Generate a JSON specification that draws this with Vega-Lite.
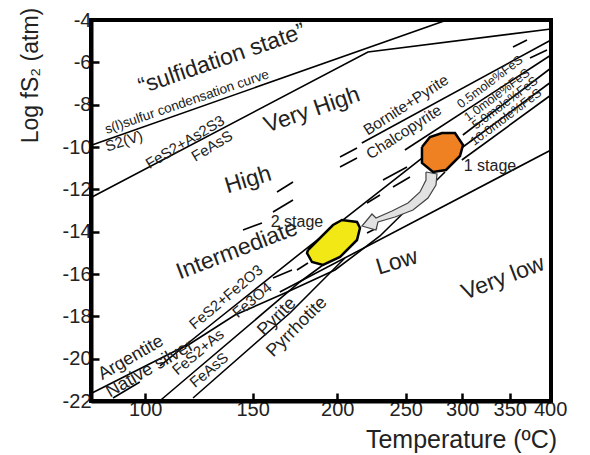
{
  "$schema": "https://vega.github.io/schema/vega-lite/v6.json",
  "autosize": "none",
  "width": 460,
  "height": 381,
  "padding": {"left": 91, "top": 20, "right": 39, "bottom": 54},
  "background": "white",
  "config": {
    "font": "Liberation Sans",
    "view": {"stroke": "black", "strokeWidth": 4},
    "axis": {"grid": false, "domainColor": "black", "domainWidth": 4, "tickColor": "black", "tickWidth": 2.5, "labelColor": "#222", "titleColor": "#222", "labelFont": "Liberation Sans", "titleFont": "Liberation Sans", "titleFontWeight": "normal"}
  },
  "datasets": {
    "lines": [
      {"line": "sulfur", "i": 0, "invT": 2.837, "fS2": -9.906},
      {"line": "sulfur", "i": 1, "invT": 1.790, "fS2": -4.0},
      {"line": "asp", "i": 0, "invT": 2.837, "fS2": -12.362},
      {"line": "asp", "i": 1, "invT": 2.023, "fS2": -5.512},
      {"line": "asp", "i": 2, "invT": 1.483, "fS2": -4.425},
      {"line": "bornite", "i": 0, "invT": 2.041, "fS2": -9.811},
      {"line": "bornite", "i": 1, "invT": 1.483, "fS2": -4.945},
      {"line": "i1", "i": 0, "invT": 1.914, "fS2": -10.142},
      {"line": "i1", "i": 1, "invT": 1.483, "fS2": -5.653},
      {"line": "i2", "i": 0, "invT": 1.743, "fS2": -9.433},
      {"line": "i2", "i": 1, "invT": 1.483, "fS2": -6.268},
      {"line": "i3", "i": 0, "invT": 1.743, "fS2": -10.0},
      {"line": "i3", "i": 1, "invT": 1.483, "fS2": -6.929},
      {"line": "i4", "i": 0, "invT": 1.746, "fS2": -10.614},
      {"line": "i4", "i": 1, "invT": 1.483, "fS2": -7.543},
      {"line": "bottom", "i": 0, "invT": 2.283, "fS2": -16.85},
      {"line": "bottom", "i": 1, "invT": 1.483, "fS2": -10.142},
      {"line": "argentite", "i": 0, "invT": 2.837, "fS2": -21.622},
      {"line": "argentite", "i": 1, "invT": 2.5627, "fS2": -19.402},
      {"line": "native", "i": 0, "invT": 2.775, "fS2": -21.858},
      {"line": "native", "i": 1, "invT": 2.696, "fS2": -21.102},
      {"line": "hem", "i": 0, "invT": 2.6365, "fS2": -20.346},
      {"line": "hem", "i": 1, "invT": 2.4801, "fS2": -18.315},
      {"line": "hem", "i": 2, "invT": 2.2028, "fS2": -14.772},
      {"line": "hem", "i": 3, "invT": 1.8636, "fS2": -10.52},
      {"line": "mag", "i": 0, "invT": 2.5627, "fS2": -19.449},
      {"line": "mag", "i": 1, "invT": 2.4152, "fS2": -17.937},
      {"line": "mag", "i": 2, "invT": 2.2677, "fS2": -16.898},
      {"line": "mag", "i": 3, "invT": 2.1202, "fS2": -15.811},
      {"line": "mag", "i": 4, "invT": 1.9875, "fS2": -14.205},
      {"line": "mag", "i": 5, "invT": 1.7957, "fS2": -11.181},
      {"line": "asp2", "i": 0, "invT": 2.634, "fS2": -21.953},
      {"line": "asp2", "i": 1, "invT": 2.224, "fS2": -16.378},
      {"line": "asp2", "i": 2, "invT": 2.055, "fS2": -14.394},
      {"line": "py", "i": 0, "invT": 2.539, "fS2": -21.858},
      {"line": "py", "i": 1, "invT": 2.253, "fS2": -17.842},
      {"line": "py", "i": 2, "invT": 2.091, "fS2": -15.244},
      {"line": "d1", "i": 0, "invT": 2.2913, "fS2": -12.126},
      {"line": "d1", "i": 1, "invT": 2.2441, "fS2": -11.654},
      {"line": "d2", "i": 0, "invT": 2.3031, "fS2": -13.071},
      {"line": "d2", "i": 1, "invT": 2.2441, "fS2": -12.504},
      {"line": "d3", "i": 0, "invT": 2.3916, "fS2": -13.921},
      {"line": "d3", "i": 1, "invT": 2.3356, "fS2": -13.591},
      {"line": "d4", "i": 0, "invT": 2.1055, "fS2": -10.472},
      {"line": "d4", "i": 1, "invT": 2.0553, "fS2": -10.047},
      {"line": "d5", "i": 0, "invT": 2.1055, "fS2": -10.945},
      {"line": "d5", "i": 1, "invT": 2.0553, "fS2": -10.52},
      {"line": "d6", "i": 0, "invT": 1.9786, "fS2": -11.559},
      {"line": "d6", "i": 1, "invT": 1.9078, "fS2": -10.945},
      {"line": "d7", "i": 0, "invT": 1.9491, "fS2": -11.89},
      {"line": "d7", "i": 1, "invT": 1.899, "fS2": -11.417},
      {"line": "d8", "i": 0, "invT": 2.0258, "fS2": -12.646},
      {"line": "d8", "i": 1, "invT": 1.9875, "fS2": -12.268},
      {"line": "d9", "i": 0, "invT": 2.3031, "fS2": -16.189},
      {"line": "d9", "i": 1, "invT": 2.2471, "fS2": -15.811},
      {"line": "d10", "i": 0, "invT": 2.2323, "fS2": -15.811},
      {"line": "d10", "i": 1, "invT": 2.1999, "fS2": -15.48},
      {"line": "d11", "i": 0, "invT": 2.0258, "fS2": -14.063},
      {"line": "d11", "i": 1, "invT": 1.9963, "fS2": -13.827},
      {"line": "d12", "i": 0, "invT": 1.5951, "fS2": -5.276},
      {"line": "d12", "i": 1, "invT": 1.5538, "fS2": -4.945},
      {"line": "d13", "i": 0, "invT": 1.545, "fS2": -5.795},
      {"line": "d13", "i": 1, "invT": 1.4948, "fS2": -5.417}
    ],
    "orange": [
      {"i": 0, "invT": 1.8636, "fS2": -10.0},
      {"i": 1, "invT": 1.84, "fS2": -9.528},
      {"i": 2, "invT": 1.8046, "fS2": -9.339},
      {"i": 3, "invT": 1.7662, "fS2": -9.339},
      {"i": 4, "invT": 1.7426, "fS2": -9.906},
      {"i": 5, "invT": 1.7515, "fS2": -10.425},
      {"i": 6, "invT": 1.7928, "fS2": -11.087},
      {"i": 7, "invT": 1.8311, "fS2": -11.181},
      {"i": 8, "invT": 1.8636, "fS2": -10.756},
      {"i": 9, "invT": 1.8636, "fS2": -10.0}
    ],
    "yellow": [
      {"i": 0, "invT": 2.1999, "fS2": -14.866},
      {"i": 1, "invT": 2.1261, "fS2": -13.685},
      {"i": 2, "invT": 2.0996, "fS2": -13.449},
      {"i": 3, "invT": 2.0553, "fS2": -13.543},
      {"i": 4, "invT": 2.0465, "fS2": -13.827},
      {"i": 5, "invT": 2.0553, "fS2": -14.394},
      {"i": 6, "invT": 2.1055, "fS2": -15.197},
      {"i": 7, "invT": 2.1556, "fS2": -15.575},
      {"i": 8, "invT": 2.1881, "fS2": -15.433},
      {"i": 9, "invT": 2.2028, "fS2": -15.008},
      {"i": 10, "invT": 2.1999, "fS2": -14.866}
    ],
    "arrow": [
      {"i": 0, "invT": 1.8518, "fS2": -11.181},
      {"i": 1, "invT": 1.8193, "fS2": -11.276},
      {"i": 2, "invT": 1.8223, "fS2": -11.795},
      {"i": 3, "invT": 1.8459, "fS2": -12.409},
      {"i": 4, "invT": 1.8901, "fS2": -12.976},
      {"i": 5, "invT": 1.9432, "fS2": -13.307},
      {"i": 6, "invT": 1.9934, "fS2": -13.543},
      {"i": 7, "invT": 1.9993, "fS2": -13.921},
      {"i": 8, "invT": 2.0406, "fS2": -13.732},
      {"i": 9, "invT": 2.0111, "fS2": -13.165},
      {"i": 10, "invT": 1.9993, "fS2": -13.354},
      {"i": 11, "invT": 1.9521, "fS2": -13.024},
      {"i": 12, "invT": 1.9049, "fS2": -12.646},
      {"i": 13, "invT": 1.8695, "fS2": -12.126},
      {"i": 14, "invT": 1.8518, "fS2": -11.559},
      {"i": 15, "invT": 1.8518, "fS2": -11.181}
    ],
    "labels": [
      {"g": "big19", "t": "“sulfidation state”", "invT": 2.4536, "fS2": -5.842},
      {"g": "big19", "t": "Very High", "invT": 2.1881, "fS2": -8.252},
      {"g": "big17", "t": "High", "invT": 2.3769, "fS2": -11.559},
      {"g": "big17", "t": "Low", "invT": 1.9373, "fS2": -15.433},
      {"g": "big21", "t": "Intermediate", "invT": 2.4093, "fS2": -14.866},
      {"g": "big21", "t": "Very low", "invT": 1.6246, "fS2": -16.189},
      {"g": "cond", "t": "s(l)sulfur condensation curve", "invT": 2.5568, "fS2": -7.874},
      {"g": "s2v", "t": "S2(V)", "invT": 2.7427, "fS2": -9.717},
      {"g": "a31", "t": "FeS2+As2S3", "invT": 2.5627, "fS2": -9.764},
      {"g": "a31", "t": "FeAsS", "invT": 2.4831, "fS2": -9.953},
      {"g": "a33", "t": "Bornite+Pyrite", "invT": 1.9108, "fS2": -8.016},
      {"g": "a33", "t": "Chalcopyrite", "invT": 1.9167, "fS2": -9.291},
      {"g": "fes", "t": "0.5mole%FeS", "invT": 1.663, "fS2": -6.929},
      {"g": "fes", "t": "1.0mole%FeS", "invT": 1.6423, "fS2": -7.543},
      {"g": "fes", "t": "5.0mole%FeS", "invT": 1.6187, "fS2": -7.921},
      {"g": "fes", "t": "10.0mole%FeS", "invT": 1.6158, "fS2": -8.583},
      {"g": "stage", "t": "2 stage", "invT": 2.2323, "fS2": -13.543},
      {"g": "stage", "t": "1 stage", "invT": 1.663, "fS2": -10.897},
      {"g": "a30", "t": "Argentite", "invT": 2.722, "fS2": -19.969},
      {"g": "a30", "t": "Native silver", "invT": 2.666, "fS2": -20.488},
      {"g": "a40", "t": "FeS2+Fe2O3", "invT": 2.4418, "fS2": -17.087},
      {"g": "a40", "t": "Fe3O4", "invT": 2.3651, "fS2": -17.228},
      {"g": "a40", "t": "FeS2+As", "invT": 2.5244, "fS2": -19.685},
      {"g": "a40", "t": "FeAsS", "invT": 2.4919, "fS2": -20.535},
      {"g": "a45", "t": "Pyrite", "invT": 2.2913, "fS2": -18.031},
      {"g": "a45", "t": "Pyrrhotite", "invT": 2.2323, "fS2": -18.504}
    ]
  },
  "encoding": {
    "x": {
      "field": "invT", "type": "quantitative",
      "scale": {"domain": [1.483, 2.84], "reverse": true, "nice": false, "zero": false},
      "axis": {
        "values": [2.67989, 2.36323, 2.11349, 1.9115, 1.74474, 1.60475, 1.48555],
        "labelExpr": "round(1000/datum.value-273.15)",
        "title": "Temperature (ºC)",
        "titleFontSize": 25,
        "titleX": 370, "titleY": 46, "titleAlign": "center", "titleBaseline": "alphabetic",
        "labelFontSize": 20, "labelPadding": 6, "tickSize": -8, "labelFlush": false, "labelOverlap": false
      }
    },
    "y": {
      "field": "fS2", "type": "quantitative",
      "scale": {"domain": [-22, -4], "nice": false, "zero": false},
      "axis": {
        "values": [-22, -20, -18, -16, -14, -12, -10, -8, -6, -4],
        "labelExpr": "'-' + abs(datum.value)",
        "title": "Log fS₂ (atm)",
        "titleFontSize": 23,
        "titleX": -61, "titleY": 55, "titleAngle": -90, "titleAlign": "center", "titleBaseline": "middle",
        "labelFontSize": 20, "labelPadding": 8, "tickSize": -8, "labelFlush": false, "labelOverlap": false
      }
    }
  },
  "layer": [
    {
      "data": {"name": "lines"},
      "mark": {"type": "line", "color": "black", "strokeWidth": 1.6},
      "encoding": {"detail": {"field": "line"}, "order": {"field": "i", "type": "quantitative"}}
    },
    {
      "data": {"name": "arrow"},
      "mark": {"type": "line", "fill": "#e2e2e2", "stroke": "#444", "strokeWidth": 1.2},
      "encoding": {"order": {"field": "i", "type": "quantitative"}}
    },
    {
      "data": {"name": "orange"},
      "mark": {"type": "line", "fill": "#f08122", "stroke": "black", "strokeWidth": 2.5},
      "encoding": {"order": {"field": "i", "type": "quantitative"}}
    },
    {
      "data": {"name": "yellow"},
      "mark": {"type": "line", "fill": "#f2e816", "stroke": "black", "strokeWidth": 2.5},
      "encoding": {"order": {"field": "i", "type": "quantitative"}}
    },
    {
      "data": {"name": "labels"},
      "transform": [{"filter": "datum.g == 'big19'"}],
      "mark": {"type": "text", "angle": -19, "fontSize": 23, "color": "#222"},
      "encoding": {"text": {"field": "t"}}
    },
    {
      "data": {"name": "labels"},
      "transform": [{"filter": "datum.g == 'big17'"}],
      "mark": {"type": "text", "angle": -17, "fontSize": 23, "color": "#222"},
      "encoding": {"text": {"field": "t"}}
    },
    {
      "data": {"name": "labels"},
      "transform": [{"filter": "datum.g == 'big21'"}],
      "mark": {"type": "text", "angle": -21, "fontSize": 23, "color": "#222"},
      "encoding": {"text": {"field": "t"}}
    },
    {
      "data": {"name": "labels"},
      "transform": [{"filter": "datum.g == 'cond'"}],
      "mark": {"type": "text", "angle": -19, "fontSize": 13.5, "color": "#222"},
      "encoding": {"text": {"field": "t"}}
    },
    {
      "data": {"name": "labels"},
      "transform": [{"filter": "datum.g == 's2v'"}],
      "mark": {"type": "text", "angle": -18, "fontSize": 15, "color": "#222"},
      "encoding": {"text": {"field": "t"}}
    },
    {
      "data": {"name": "labels"},
      "transform": [{"filter": "datum.g == 'a31'"}],
      "mark": {"type": "text", "angle": -31, "fontSize": 15, "color": "#222"},
      "encoding": {"text": {"field": "t"}}
    },
    {
      "data": {"name": "labels"},
      "transform": [{"filter": "datum.g == 'a33'"}],
      "mark": {"type": "text", "angle": -33, "fontSize": 15.5, "color": "#222"},
      "encoding": {"text": {"field": "t"}}
    },
    {
      "data": {"name": "labels"},
      "transform": [{"filter": "datum.g == 'fes'"}],
      "mark": {"type": "text", "angle": -37, "fontSize": 12.5, "color": "#222"},
      "encoding": {"text": {"field": "t"}}
    },
    {
      "data": {"name": "labels"},
      "transform": [{"filter": "datum.g == 'stage'"}],
      "mark": {"type": "text", "angle": 0, "fontSize": 16, "color": "#222"},
      "encoding": {"text": {"field": "t"}}
    },
    {
      "data": {"name": "labels"},
      "transform": [{"filter": "datum.g == 'a30'"}],
      "mark": {"type": "text", "angle": -30, "fontSize": 18, "color": "#222"},
      "encoding": {"text": {"field": "t"}}
    },
    {
      "data": {"name": "labels"},
      "transform": [{"filter": "datum.g == 'a40'"}],
      "mark": {"type": "text", "angle": -40, "fontSize": 15, "color": "#222"},
      "encoding": {"text": {"field": "t"}}
    },
    {
      "data": {"name": "labels"},
      "transform": [{"filter": "datum.g == 'a45'"}],
      "mark": {"type": "text", "angle": -45, "fontSize": 18, "color": "#222"},
      "encoding": {"text": {"field": "t"}}
    }
  ]
}
